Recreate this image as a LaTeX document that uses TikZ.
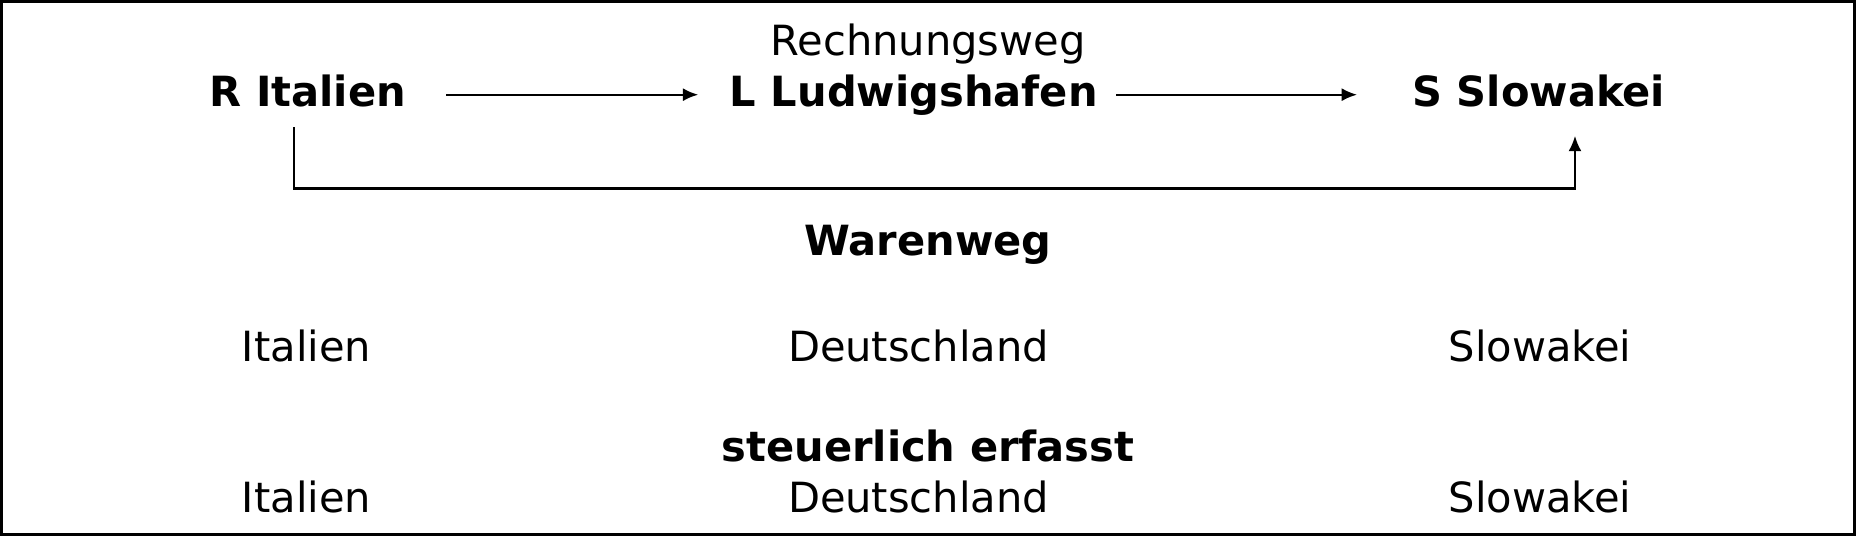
\documentclass[tikz,border=0pt]{standalone}
\usepackage{fontspec}
\setmainfont{DejaVu Sans}
\usetikzlibrary{arrows.meta}

\begin{document}
\begin{tikzpicture}[
			fett/.style={font=\bfseries\fontsize{10}{12}\selectfont, inner sep=0pt, anchor=base},
			ort/.style={font=\fontsize{10}{12}\selectfont, inner sep=0pt, anchor=base},
			partei/.style={fett, text height=2mm, text depth=0mm},
			pfeil/.style={-{Latex[length=1.3mm,width=1.1mm]}, line width=0.55pt}
			]
			\draw [line width=0.8pt] (0.014, 0.014) rectangle (15.666, 4.516);
			\node [ort] (rechnung) at (7.84, 4.065) {Rechnungsweg};
			\node [partei] (italien) at (2.60, 3.63) {R Italien};
			\node [partei] (ludwigshafen) at (7.72, 3.63) {L Ludwigshafen};
			\node [partei] (slowakei) at (13.00, 3.63) {S Slowakei};
			\draw [pfeil] ([xshift=3.35mm]italien.east) -- ([xshift=-2.6mm]ludwigshafen.west);
			\draw [pfeil] ([xshift=1.5mm]ludwigshafen.east) -- ([xshift=-4.6mm]slowakei.west);
			\draw [pfeil] ([xshift=-1.15mm, yshift=-1.7mm]italien.south) -- ++(0, -5.15mm) -| ([xshift=3.06mm, yshift=-2.4mm]slowakei.south);
			\node [fett] (waren) at (7.84, 2.37) {Warenweg};
			\node [ort] (wit) at (2.59, 1.48) {Italien};
			\node [ort] (wde) at (7.76, 1.48) {Deutschland};
			\node [ort] (wsk) at (13.01, 1.48) {Slowakei};
			\node [fett] (steuer) at (7.84, 0.635) {steuerlich erfasst};
			\node [ort] (sit) at (2.59, 0.20) {Italien};
			\node [ort] (sde) at (7.76, 0.20) {Deutschland};
			\node [ort] (ssk) at (13.01, 0.20) {Slowakei};
		\end{tikzpicture}
\end{document}
